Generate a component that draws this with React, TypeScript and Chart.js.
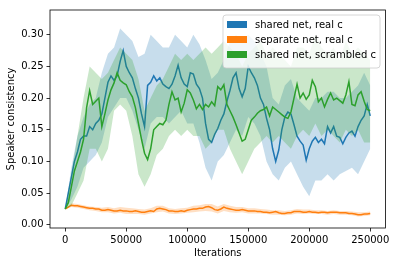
import React, { useEffect, useRef } from 'react';
import { Chart, registerables } from 'chart.js';
Chart.register(...registerables);

const FONT = 'DejaVu Sans';

// x sampling grids (iterations)
const iterations = Array.from({ length: 101 }, (_, i) => i * 2500);
const bandIterations = Array.from({ length: 51 }, (_, i) => i * 5000);

const xTicks = [0, 50000, 100000, 150000, 200000, 250000];
const yTicks = [0, 0.05, 0.1, 0.15, 0.2, 0.25, 0.3];

const seriesLabels = ['shared net, real c', 'separate net, real c', 'shared net, scrambled c'];
const seriesColors = ['#1f77b4', '#ff7f0e', '#2ca02c'];
const bandColors = ['rgba(31,119,180,0.25)', 'rgba(255,127,14,0.25)', 'rgba(44,160,44,0.25)'];

const sharedReal = [
  0.025, 0.05, 0.075, 0.1, 0.115, 0.135, 0.14, 0.14, 0.155, 0.15,
  0.16, 0.165, 0.175, 0.2, 0.225, 0.235, 0.228, 0.235, 0.258, 0.275,
  0.25, 0.24, 0.232, 0.215, 0.2, 0.175, 0.155, 0.22, 0.225, 0.235,
  0.227, 0.232, 0.222, 0.218, 0.215, 0.222, 0.235, 0.252, 0.232, 0.222,
  0.218, 0.24, 0.238, 0.222, 0.215, 0.2, 0.16, 0.135, 0.13, 0.143,
  0.152, 0.165, 0.175, 0.195, 0.212, 0.232, 0.24, 0.215, 0.202, 0.215,
  0.25, 0.24, 0.232, 0.22, 0.2, 0.19, 0.168, 0.15, 0.12, 0.1,
  0.118, 0.15, 0.17, 0.178, 0.175, 0.158, 0.14, 0.132, 0.126, 0.102,
  0.12, 0.132, 0.138, 0.13, 0.135, 0.128, 0.155, 0.145, 0.155, 0.14,
  0.138, 0.128, 0.138, 0.145, 0.148, 0.14, 0.155, 0.165, 0.172, 0.19,
  0.172,
];

const separateReal = [
  0.025, 0.028, 0.031, 0.03, 0.03, 0.029, 0.028, 0.027, 0.026, 0.026,
  0.025, 0.025, 0.023, 0.023, 0.024, 0.023, 0.022, 0.022, 0.023, 0.022,
  0.022, 0.021, 0.021, 0.022, 0.021, 0.02, 0.02, 0.021, 0.022, 0.021,
  0.025, 0.026, 0.025, 0.024, 0.022, 0.022, 0.021, 0.021, 0.022, 0.021,
  0.023, 0.024, 0.025, 0.025, 0.026, 0.026, 0.028, 0.029, 0.027, 0.024,
  0.023, 0.025, 0.028, 0.026, 0.025, 0.024, 0.023, 0.023, 0.024, 0.023,
  0.022, 0.022, 0.022, 0.021, 0.021, 0.02, 0.02, 0.019, 0.02, 0.021,
  0.019, 0.018, 0.018, 0.019, 0.019, 0.021, 0.021, 0.021, 0.02, 0.02,
  0.021, 0.02, 0.02, 0.019, 0.02, 0.02, 0.019, 0.02, 0.02, 0.02,
  0.019, 0.019, 0.019, 0.018, 0.018, 0.017, 0.016, 0.016, 0.017, 0.017,
  0.018,
];

const sharedScrambled = [
  0.025, 0.035, 0.06, 0.085, 0.1, 0.115, 0.135, 0.185, 0.212, 0.19,
  0.195, 0.2, 0.155, 0.175, 0.197, 0.213, 0.224, 0.24, 0.228, 0.224,
  0.221, 0.21, 0.202, 0.185, 0.16, 0.135, 0.113, 0.103, 0.12, 0.15,
  0.155, 0.16, 0.158, 0.165, 0.19, 0.21, 0.197, 0.2, 0.178, 0.192,
  0.213, 0.208, 0.197, 0.183, 0.19, 0.182, 0.19, 0.186, 0.194, 0.188,
  0.218, 0.213, 0.221, 0.19, 0.18, 0.17, 0.158, 0.145, 0.132, 0.135,
  0.15, 0.165, 0.17, 0.176, 0.18, 0.182, 0.186, 0.172, 0.186, 0.182,
  0.178, 0.174, 0.17, 0.168, 0.178, 0.2, 0.222, 0.2, 0.208, 0.198,
  0.205, 0.228, 0.218, 0.194, 0.2, 0.186, 0.198, 0.208, 0.197, 0.2,
  0.196, 0.192, 0.205, 0.226, 0.19, 0.188, 0.205, 0.21, 0.195, 0.182,
  0.18,
];

// confidence bands (sampled every 5000 iterations)
const sharedRealLow = [
  0.025, 0.04, 0.06, 0.09, 0.1, 0.11, 0.13, 0.17, 0.185, 0.2,
  0.2, 0.18, 0.15, 0.12, 0.16, 0.17, 0.17, 0.16, 0.17, 0.18,
  0.16, 0.16, 0.13, 0.09, 0.07, 0.1, 0.11, 0.13, 0.15, 0.14,
  0.17, 0.16, 0.14, 0.1, 0.08, 0.07, 0.09, 0.1, 0.08, 0.06,
  0.045, 0.07, 0.07, 0.08, 0.07, 0.08, 0.085, 0.09, 0.08, 0.1,
  0.12,
];
const sharedRealHigh = [
  0.025, 0.09, 0.14, 0.17, 0.19, 0.2, 0.24, 0.27, 0.28, 0.31,
  0.3, 0.29, 0.265, 0.27, 0.3, 0.29, 0.28, 0.28, 0.3, 0.29,
  0.28, 0.3, 0.285, 0.26, 0.23, 0.24, 0.26, 0.29, 0.3, 0.29,
  0.3, 0.29, 0.27, 0.25, 0.2, 0.19, 0.22, 0.23, 0.2, 0.19,
  0.18, 0.2, 0.2, 0.21, 0.21, 0.2, 0.2, 0.21, 0.22, 0.24,
  0.22,
];
const separateRealLow = [
  0.024, 0.028, 0.027, 0.025, 0.023, 0.022, 0.02, 0.02, 0.018, 0.019,
  0.017, 0.017, 0.017, 0.016, 0.018, 0.02, 0.021, 0.018, 0.017, 0.018,
  0.019, 0.02, 0.021, 0.022, 0.021, 0.018, 0.022, 0.02, 0.019, 0.02,
  0.018, 0.018, 0.018, 0.017, 0.016, 0.016, 0.015, 0.016, 0.018, 0.017,
  0.018, 0.017, 0.017, 0.016, 0.017, 0.016, 0.016, 0.015, 0.013, 0.014,
  0.015,
];
const separateRealHigh = [
  0.026, 0.034, 0.033, 0.031, 0.029, 0.028, 0.027, 0.028, 0.026, 0.028,
  0.027, 0.026, 0.025, 0.024, 0.026, 0.03, 0.03, 0.026, 0.025, 0.026,
  0.027, 0.03, 0.031, 0.033, 0.033, 0.029, 0.033, 0.03, 0.028, 0.028,
  0.026, 0.026, 0.025, 0.024, 0.023, 0.023, 0.022, 0.023, 0.025, 0.024,
  0.024, 0.023, 0.023, 0.022, 0.023, 0.022, 0.022, 0.021, 0.02, 0.02,
  0.021,
];
const sharedScrambledLow = [
  0.025, 0.03, 0.05, 0.07, 0.12, 0.12, 0.1, 0.12, 0.18, 0.19,
  0.18, 0.14, 0.08, 0.06, 0.08, 0.11, 0.12, 0.14, 0.15, 0.14,
  0.15, 0.14, 0.14, 0.12, 0.13, 0.15, 0.15, 0.12, 0.1, 0.08,
  0.1, 0.12, 0.13, 0.14, 0.13, 0.14, 0.13, 0.12, 0.14, 0.15,
  0.14, 0.16, 0.14, 0.15, 0.14, 0.13, 0.15, 0.14, 0.15, 0.13,
  0.13,
];
const sharedScrambledHigh = [
  0.025, 0.08, 0.14, 0.2, 0.25, 0.24, 0.23, 0.24, 0.26, 0.28,
  0.27, 0.26, 0.23, 0.18, 0.2, 0.22, 0.23, 0.25, 0.27, 0.26,
  0.27, 0.26, 0.27, 0.28, 0.27, 0.28, 0.29, 0.28, 0.27, 0.25,
  0.27, 0.28, 0.29, 0.27, 0.28, 0.27, 0.26, 0.25, 0.28, 0.28,
  0.27, 0.3, 0.28, 0.27, 0.28, 0.26, 0.29, 0.27, 0.28, 0.27,
  0.26,
];

const toPts = (xs: number[], ys: number[]) => ys.map((y, i) => ({ x: xs[i], y }));

const legendPlugin = {
  id: 'mplLegend',
  afterDraw(chart: any) {
    const { ctx, chartArea } = chart;
    // spines
    ctx.save();
    ctx.strokeStyle = '#000';
    ctx.lineWidth = 0.8;
    ctx.strokeRect(chartArea.left, chartArea.top, chartArea.right - chartArea.left, chartArea.bottom - chartArea.top);
    // legend
    ctx.font = `10px "${FONT}"`;
    const maxW = Math.max(...seriesLabels.map((l) => ctx.measureText(l).width));
    const w = 4 + 20 + 8 + maxW + 4;
    const h = 53;
    const x = chartArea.right - 5.5 - w;
    const y = chartArea.top + 5;
    const r = 3;
    ctx.beginPath();
    ctx.moveTo(x + r, y);
    ctx.lineTo(x + w - r, y);
    ctx.arcTo(x + w, y, x + w, y + r, r);
    ctx.lineTo(x + w, y + h - r);
    ctx.arcTo(x + w, y + h, x + w - r, y + h, r);
    ctx.lineTo(x + r, y + h);
    ctx.arcTo(x, y + h, x, y + h - r, r);
    ctx.lineTo(x, y + r);
    ctx.arcTo(x, y, x + r, y, r);
    ctx.closePath();
    ctx.fillStyle = 'rgba(255,255,255,0.8)';
    ctx.fill();
    ctx.strokeStyle = '#cccccc';
    ctx.lineWidth = 0.8;
    ctx.stroke();
    ctx.textBaseline = 'middle';
    ctx.textAlign = 'left';
    seriesLabels.forEach((label, i) => {
      const cy = y + 9.5 + i * 15;
      ctx.fillStyle = seriesColors[i];
      ctx.fillRect(x + 4, cy - 3.5, 20, 7);
      ctx.fillStyle = '#000';
      ctx.fillText(label, x + 32, cy + 0.5);
    });
    ctx.restore();
  },
};

export default function App() {
  const ref = useRef<HTMLCanvasElement | null>(null);
  useEffect(() => {
    if (!ref.current) return;
    const font = { family: FONT, size: 10 };
    const lines = [sharedReal, separateReal, sharedScrambled];
    const lows = [sharedRealLow, separateRealLow, sharedScrambledLow];
    const highs = [sharedRealHigh, separateRealHigh, sharedScrambledHigh];
    const datasets: any[] = [];
    for (let s = 0; s < 3; s++) {
      const bandOrder = 6 - s * 2;
      datasets.push({
        label: seriesLabels[s] + ' low',
        data: toPts(bandIterations, lows[s]),
        borderColor: 'transparent',
        borderWidth: 0,
        pointRadius: 0,
        fill: false,
        order: bandOrder,
      });
      datasets.push({
        label: seriesLabels[s] + ' high',
        data: toPts(bandIterations, highs[s]),
        borderColor: 'transparent',
        borderWidth: 0,
        pointRadius: 0,
        backgroundColor: bandColors[s],
        fill: '-1',
        order: bandOrder,
      });
      datasets.push({
        label: seriesLabels[s],
        data: toPts(iterations, lines[s]),
        borderColor: seriesColors[s],
        borderWidth: 1.5,
        pointRadius: 0,
        fill: false,
        order: bandOrder - 1,
      });
    }
    const chart = new Chart(ref.current, {
      type: 'line',
      data: { datasets },
      options: {
        responsive: false,
        animation: false,
        devicePixelRatio: 1,
        layout: { padding: { top: 10, right: 10.5, left: 0, bottom: 0 } },
        plugins: {
          legend: { display: false },
          tooltip: { enabled: false },
        },
        elements: { point: { radius: 0 }, line: { tension: 0 } },
        scales: {
          x: {
            type: 'linear',
            min: -12500,
            max: 262500,
            afterBuildTicks: (s: any) => {
              s.ticks = xTicks.map((v) => ({ value: v }));
            },
            afterFit: (s: any) => {
              s.height = 38;
            },
            ticks: {
              font,
              color: '#000',
              padding: 3,
              maxRotation: 0,
              autoSkip: false,
              callback: (v: any) => String(v),
            },
            grid: {
              display: true,
              drawOnChartArea: false,
              drawTicks: true,
              tickLength: 3.5,
              color: '#000',
              lineWidth: 0.8,
            },
            border: { display: false },
            title: { display: true, text: 'Iterations', font, color: '#000', padding: { top: 0, bottom: 7 } },
          },
          y: {
            type: 'linear',
            min: -0.005,
            max: 0.339,
            afterBuildTicks: (s: any) => {
              s.ticks = yTicks.map((v) => ({ value: v }));
            },
            afterFit: (s: any) => {
              s.width = 50;
            },
            ticks: {
              font,
              color: '#000',
              padding: 3,
              autoSkip: false,
              callback: (v: any) => Number(v).toFixed(2),
            },
            grid: {
              display: true,
              drawOnChartArea: false,
              drawTicks: true,
              tickLength: 3.5,
              color: '#000',
              lineWidth: 0.8,
            },
            border: { display: false },
            title: { display: true, text: 'Speaker consistency', font, color: '#000', padding: { top: 5, bottom: 0 } },
          },
        },
      },
      plugins: [legendPlugin],
    });
    return () => chart.destroy();
  }, []);
  return (
    <div style={{ position: 'absolute', left: 0, top: 0, width: 396, height: 266, background: '#fff' }}>
      <canvas ref={ref} width={396} height={266} style={{ width: 396, height: 266, display: 'block' }} />
    </div>
  );
}
